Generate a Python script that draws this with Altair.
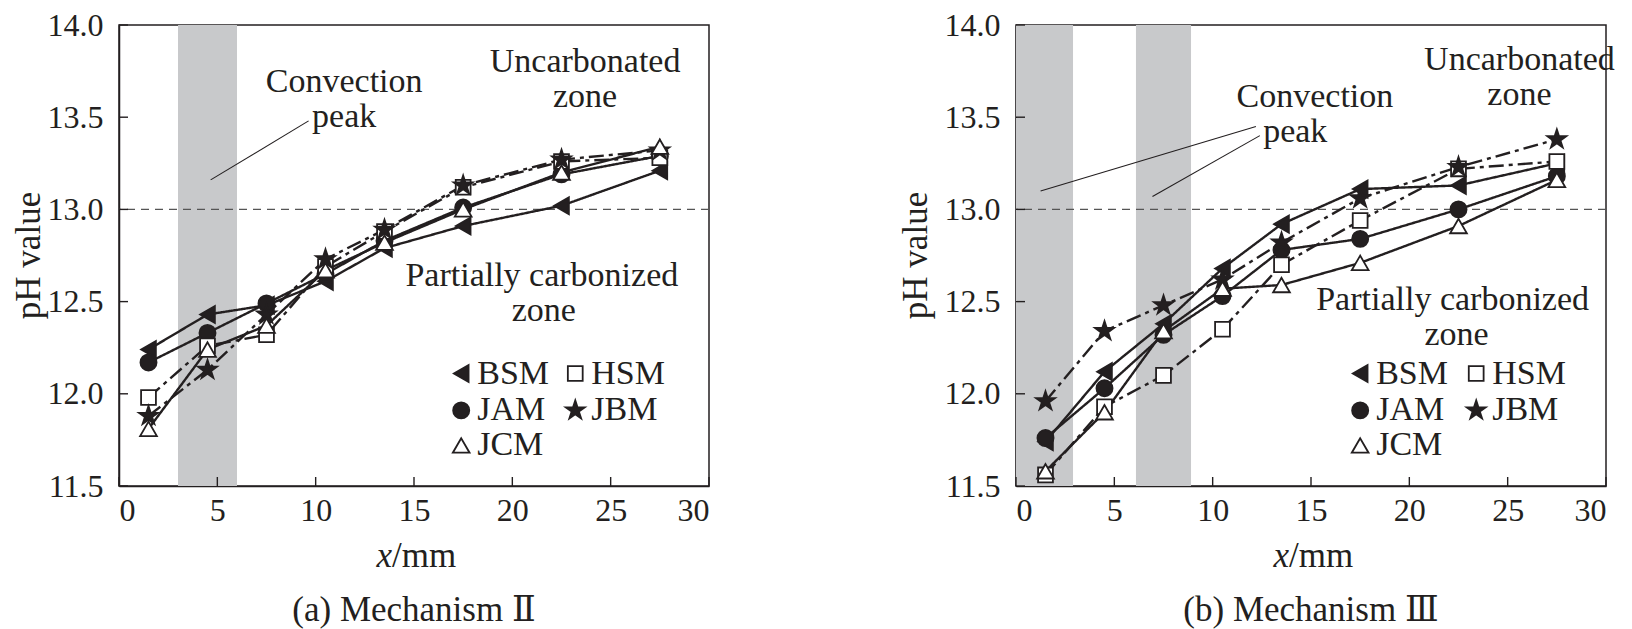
import altair as alt
import pandas as pd

# sampling depth (mm) and pH readings
x_mm = [1.5, 4.5, 7.5, 10.5, 13.5, 17.5, 22.5, 27.5]
series = ["BSM", "JAM", "HSM", "JBM", "JCM"]

# (a) Mechanism II
bsm_a = [12.24, 12.43, 12.48, 12.61, 12.79, 12.91, 13.02, 13.21]
jam_a = [12.17, 12.33, 12.49, 12.65, 12.83, 13.01, 13.19, 13.29]
hsm_a = [11.98, 12.26, 12.32, 12.69, 12.88, 13.12, 13.26, 13.28]
jbm_a = [11.88, 12.13, 12.43, 12.73, 12.89, 13.13, 13.27, 13.32]
jcm_a = [11.81, 12.24, 12.37, 12.67, 12.82, 13.00, 13.20, 13.34]

# (b) Mechanism III
bsm_b = [11.74, 12.12, 12.38, 12.68, 12.92, 13.11, 13.13, 13.25]
jam_b = [11.76, 12.03, 12.32, 12.53, 12.78, 12.84, 13.00, 13.18]
hsm_b = [11.56, 11.93, 12.10, 12.35, 12.70, 12.94, 13.22, 13.26]
jbm_b = [11.96, 12.34, 12.48, 12.62, 12.82, 13.06, 13.23, 13.38]
jcm_b = [11.58, 11.90, 12.34, 12.57, 12.59, 12.71, 12.91, 13.16]

# convection-peak bands (mm)
bands_a = [(3.0, 6.0)]
bands_b = [(0.0, 2.9), (6.1, 8.9)]

x_ticks = [0, 5, 10, 15, 20, 25, 30]
y_ticks = [11.5, 12.0, 12.5, 13.0, 13.5, 14.0]

FONT = "Liberation Serif, Tinos, Times New Roman, DejaVu Serif, serif"
INK = "#231f20"
W, H = 590, 461

STAR = ("M0,-1L0.2245,-0.309L0.951,-0.309L0.363,0.118L0.588,0.809L0,0.382"
        "L-0.588,0.809L-0.363,0.118L-0.951,-0.309L-0.2245,-0.309Z")
style = {
    "BSM": dict(shape="triangle-left", fill=INK, size=290),
    "JAM": dict(shape="circle", fill=INK, size=260),
    "HSM": dict(shape="square", fill="white", size=220),
    "JBM": dict(shape=STAR, fill=INK, size=400),
    "JCM": dict(shape="triangle-up", fill="white", size=280),
}
dash = {"BSM": [1, 0], "JAM": [1, 0], "HSM": [15, 5, 4, 5], "JBM": [15, 5, 4, 5], "JCM": [1, 0]}

xs = alt.Scale(domain=[0, 30], nice=False)
ys = alt.Scale(domain=[11.5, 14.0], nice=False, zero=False)
xaxis = alt.Axis(values=x_ticks, format="d", title=None, labelPadding=9)
yaxis = alt.Axis(values=y_ticks, format=".1f", title=None, labelPadding=16)


def X(f):
    return alt.X(f, type="quantitative", scale=xs, axis=xaxis)


def Y(f):
    return alt.Y(f, type="quantitative", scale=ys, axis=yaxis)


def panel(vals, bands, notes, pointers, legend_xy, caption, title_off):
    rows = []
    for s, v in zip(series, vals):
        for x, y in zip(x_mm, v):
            rows.append({"series": s, "x": x, "ph": y})
    df = pd.DataFrame(rows)

    band = alt.Chart(pd.DataFrame(bands, columns=["x0", "x1"])).mark_rect(
        color="#c8c9cb").encode(x=X("x0"), x2="x1", y=alt.value(0), y2=alt.value(H))

    ref = alt.Chart(pd.DataFrame({"y": [13.0]})).mark_rule(
        color="#555", strokeWidth=1.2, strokeDash=[8, 6]).encode(y=Y("y"))

    lines = alt.Chart(df).mark_line(color=INK, strokeWidth=2.4).encode(
        x=X("x"), y=Y("ph"), detail="series:N",
        strokeDash=alt.StrokeDash("series:N", scale=alt.Scale(
            domain=series, range=[dash[s] for s in series]), legend=None))

    pts = []
    for s in series:
        st = style[s]
        pts.append(alt.Chart(df[df.series == s]).mark_point(
            shape=st["shape"], filled=True, fill=st["fill"], stroke=INK,
            strokeWidth=1.8, size=st["size"], opacity=1).encode(x=X("x"), y=Y("ph")))

    ptr = alt.Chart(pd.DataFrame(pointers, columns=["x0", "y0", "x1", "y1"])).mark_rule(
        color=INK, strokeWidth=1.1).encode(x=X("x0"), y=Y("y0"), x2="x1", y2="y1")

    txt = alt.Chart(pd.DataFrame(notes, columns=["t", "x", "y"])).mark_text(
        font=FONT, fontSize=34, color=INK).encode(x=X("x"), y=Y("y"), text="t:N")

    leg = []
    for s in series:
        lx, ly = legend_xy[s]
        st = style[s]
        d = pd.DataFrame({"x": [lx], "y": [ly], "t": [s]})
        leg.append(alt.Chart(d).mark_point(
            shape=st["shape"], filled=True, fill=st["fill"], stroke=INK,
            strokeWidth=1.8, size=st["size"], opacity=1).encode(x=X("x"), y=Y("y")))
        leg.append(alt.Chart(d).mark_text(
            font=FONT, fontSize=34, color=INK, align="left", dx=16).encode(
            x=X("x"), y=Y("y"), text="t:N"))

    xt = alt.Chart(pd.DataFrame({"v": x_ticks})).mark_rule(
        color=INK, strokeWidth=1.4).encode(x=X("v"), y=alt.value(H), y2=alt.value(H - 9))
    yt = alt.Chart(pd.DataFrame({"v": y_ticks})).mark_rule(
        color=INK, strokeWidth=1.4).encode(y=Y("v"), x=alt.value(0), x2=alt.value(9))

    one = pd.DataFrame({"a": [0]})
    ytitle = alt.Chart(one).mark_text(
        font=FONT, fontSize=35, color=INK, angle=270, baseline="middle").encode(
        x=alt.value(-title_off), y=alt.value(H / 2), text=alt.value("pH value"))
    xtitle_x = alt.Chart(one).mark_text(
        font=FONT, fontSize=35, color=INK, fontStyle="italic", align="right",
        baseline="middle").encode(x=alt.value(W / 2 - 22), y=alt.value(H + 70),
                                  text=alt.value("x"))
    xtitle_mm = alt.Chart(one).mark_text(
        font=FONT, fontSize=35, color=INK, align="left", baseline="middle").encode(
        x=alt.value(W / 2 - 22), y=alt.value(H + 70), text=alt.value("/mm"))
    cap = alt.Chart(one).mark_text(
        font=FONT, fontSize=35, color=INK, baseline="middle").encode(
        x=alt.value(W / 2), y=alt.value(H + 124), text=alt.value(caption))

    return alt.layer(band, ref, lines, *pts, ptr, txt, *leg, xt, yt,
                     ytitle, xtitle_x, xtitle_mm, cap).properties(width=W, height=H)


notes_a = [("Convection", 11.45, 13.69), ("peak", 11.45, 13.50),
           ("Uncarbonated", 23.7, 13.80), ("zone", 23.7, 13.61),
           ("Partially carbonized", 21.5, 12.64), ("zone", 21.6, 12.45)]
pointers_a = [(4.66, 13.16, 9.64, 13.48)]
legend_a = {"BSM": (17.4, 12.11), "HSM": (23.2, 12.11), "JAM": (17.4, 11.91),
            "JBM": (23.2, 11.91), "JCM": (17.4, 11.72)}

notes_b = [("Convection", 15.2, 13.61), ("peak", 14.2, 13.42),
           ("Uncarbonated", 25.6, 13.81), ("zone", 25.6, 13.62),
           ("Partially carbonized", 22.2, 12.51), ("zone", 22.4, 12.32)]
pointers_b = [(1.25, 13.10, 12.2, 13.45), (6.94, 13.07, 12.4, 13.40)]
legend_b = {"BSM": (17.5, 12.11), "HSM": (23.4, 12.11), "JAM": (17.5, 11.91),
            "JBM": (23.4, 11.91), "JCM": (17.5, 11.72)}

left = panel([bsm_a, jam_a, hsm_a, jbm_a, jcm_a], bands_a, notes_a, pointers_a,
             legend_a, "(a) Mechanism Ⅱ", 90)
right = panel([bsm_b, jam_b, hsm_b, jbm_b, jcm_b], bands_b, notes_b, pointers_b,
              legend_b, "(b) Mechanism Ⅲ", 100)

chart = alt.hconcat(left, right, spacing=187).properties(
    padding={"left": 3, "top": 0, "right": 0, "bottom": 0}
).configure_view(stroke=INK, strokeWidth=1.5).configure_axis(
    domainColor=INK, domainWidth=1.5, ticks=False, grid=False,
    labelFont=FONT, labelFontSize=32, labelColor=INK)

chart.save("out.html", embed_options={"renderer": "svg", "actions": False})
